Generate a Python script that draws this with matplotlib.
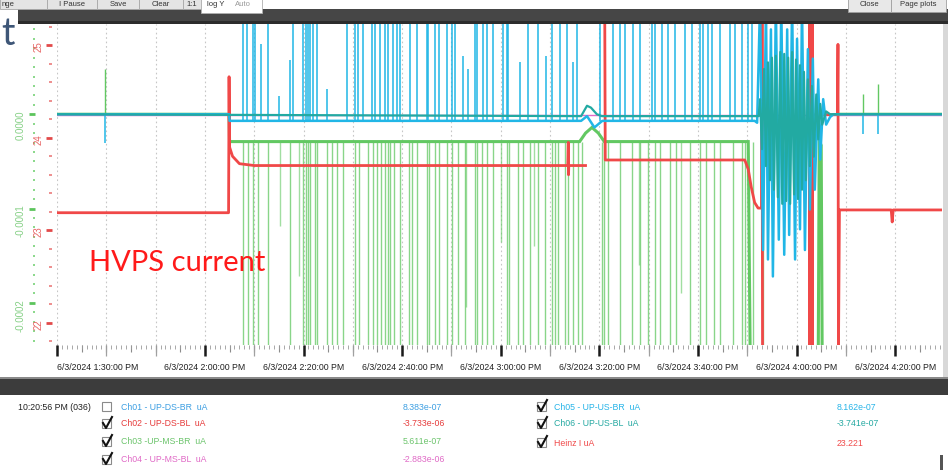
import numpy as np
import matplotlib
matplotlib.use("Agg")
import matplotlib.pyplot as plt
from matplotlib import font_manager
from matplotlib.patches import Rectangle
from matplotlib.lines import Line2D
from matplotlib.ticker import MultipleLocator, FixedLocator, FuncFormatter

W, H = 948, 472
nan = np.nan

_names = {f.name for f in font_manager.fontManager.ttflist}
NARROW = "Liberation Sans Narrow" if "Liberation Sans Narrow" in _names else "Liberation Sans"

# ---------------------------------------------------------------------------
# time axis: minutes after 6/3/2024 1:30 PM
# ---------------------------------------------------------------------------
T_MAX = 179.5
MAJOR_T = [0, 30, 50, 70, 90, 110, 130, 150, 170]
MAJOR_LBL = ["6/3/2024 1:30:00 PM", "6/3/2024 2:00:00 PM", "6/3/2024 2:20:00 PM",
             "6/3/2024 2:40:00 PM", "6/3/2024 3:00:00 PM", "6/3/2024 3:20:00 PM",
             "6/3/2024 3:40:00 PM", "6/3/2024 4:00:00 PM", "6/3/2024 4:20:00 PM"]

# channel currents, in units of 1e-4 uA (left green scale)
CH06_T = [0, 106.3, 107.5, 108.3, 109.5, 110.5, 142.3,
          142.6, 143.0, 143.4, 143.8, 144.2, 144.6, 145.0, 145.4, 145.8, 146.2,
          146.7, 147.1, 147.5, 147.9, 148.3, 148.7, 149.1, 149.5, 149.9, 150.3, 150.7,
          151.1, 151.5, 151.9, 152.3, 152.7, 153.1, 153.5, 154.0, 154.4, 154.8, 155.2,
          156.0, 156.8, 179.5]
CH06_V = [0, -0.02, 0.09, 0.07, 0.0, -0.02, -0.02,
          0.16, -0.37, 0.48, -0.55, 0.55, -0.70, 0.60, -0.80, 0.62, -0.88,
          0.66, -0.95, 0.64, -0.92, 0.60, -0.95, 0.66, -0.85, 0.58, -0.90, 0.52,
          -0.80, 0.45, -0.70, 0.37, -0.55, 0.30, -0.45, 0.21, -0.27, 0.11, -0.11,
          0.03, 0, 0]

CH05_T = [0, 34.9, 35.0, 106.3, 107.5, 109.0, 110.6, 141.5,
          142.0, 142.6, 143.2, 143.8, 144.2, 144.8, 145.2, 145.8, 146.4, 146.9, 147.5,
          148.1, 148.5, 149.1, 149.7, 150.1, 150.7, 151.1, 151.7, 152.3, 152.7, 153.3,
          153.7, 154.4, 154.8, 155.4, 156.0, 156.8, 157.5, 179.5]
CH05_V = [0, 0, -0.07, -0.07, -0.02, -0.14, -0.07, -0.07,
          -0.09, 1.2, -1.44, 1.2, -1.54, 0.90, -1.72, 1.2, -1.33, 1.2, -1.49,
          0.90, -1.28, 1.2, -1.54, 0.80, -1.22, 1.2, -1.44, 0.69, -1.01, 0.59,
          -0.80, 0.37, -0.48, 0.16, -0.11, -0.03, 0, 0]

# upward glitches on Ch05 reaching the top of the window
CH05_SPIKES = [37.7, 38.5, 39.8, 40.2, 42.8, 47.9, 49.9, 50.5, 50.9, 51.3, 51.9, 52.7,
               58.8, 60.4, 61.1, 62.1, 63.9, 64.5, 65.5, 66.5, 67.1, 68.2, 69.0, 69.6,
               71.6, 73.0, 75.1, 75.3, 76.7, 77.5, 79.1, 80.1, 80.7, 84.8, 85.2, 86.4,
               87.2, 88.4, 90.5, 91.3, 91.5, 95.5, 97.6, 100.4, 102.0, 103.4, 105.5,
               110.1, 112.8, 114.2, 115.2, 116.8, 118.3, 120.7, 121.3, 122.7, 123.9,
               125.4, 127.4, 128.8, 130.4, 131.0, 132.0, 132.9, 134.5, 136.5, 137.5,
               138.9, 140.2, 141.0]
CH05_PART_T = [41.4, 45.0, 47.3, 54.8, 82.4, 83.4, 93.9, 99.2, 104.6]
CH05_PART_TOP = [0.74, 0.19, 0.58, 0.27, 0.62, 0.48, 0.55, 0.62, 0.55]
CH05_DIPS_T = [9.7, 163.5, 166.5]
CH05_DIPS_LOW = [-0.30, -0.21, -0.21]

CH03_T = [0, 34.9, 35.0, 106.0, 107.2, 108.5, 109.8, 111.0, 140.2, 140.6, nan,
          154.4, 154.6, 155.0, 155.2, nan, 158.4, 179.5]
CH03_V = [0, 0, -0.29, -0.29, -0.20, -0.14, -0.20, -0.29, -0.29, -2.6, nan,
          -2.6, -0.28, -0.33, -2.6, nan, 0, 0]

# downward glitches on Ch03 (to the bottom of the window)
CH03_SPIKES = [37.7, 38.7, 39.8, 40.8, 42.8, 47.3, 49.9, 50.5, 50.9, 51.3, 52.3, 52.7,
               54.8, 55.8, 56.8, 58.0, 60.4, 61.3, 63.1, 64.1, 64.9, 65.7, 66.5, 67.1,
               67.5, 68.4, 69.6, 71.4, 72.0, 73.0, 75.1, 75.5, 76.7, 77.5, 79.1, 80.1,
               81.3, 82.8, 84.8, 85.2, 86.2, 87.2, 88.4, 91.3, 91.7, 93.5, 94.5, 95.9,
               97.6, 99.0, 100.4, 101.0, 101.6, 103.0, 103.7, 104.7, 105.7, 106.5,
               110.5, 111.0, 111.8, 114.2, 116.6, 118.3, 119.9, 121.3, 122.3, 124.3,
               125.6, 128.4, 130.4, 131.6, 133.3, 134.5, 137.1, 138.9, 139.6, 141.2,
               143.2]
CH03_PART_T = [45.2, 49.1, 83.0, 90.0, 96.7, 118.0, 126.5]
CH03_PART_LOW = [-1.19, -1.72, -2.04, -1.36, -1.40, -1.60, -1.90]
CH03_UP_T = [9.7, 163.5, 166.5]
CH03_UP_TOP = [0.48, 0.21, 0.32]
CH03_FLOOR = -2.6

# HVPS current "Heinz I", uA (right red scale)
HEINZ_T = [0, 34.8, 34.9, 35.0, 35.6, 37.0, 40.0, 103.6, 103.7, 103.75, 103.8, 107.2,
           107.3, 111.1, 111.2, 139.5, 140.2, 140.8, 141.5, 142.2, 142.9, 143.0, 143.1,
           143.2, 153.5, 158.3, 158.4, 158.5, 158.7, 169.2, 169.4, 169.6, 179.5]
HEINZ_V = [23.19, 23.19, 24.66, 23.90, 23.80, 23.72, 23.70, 23.70, 23.95, 23.60, 23.70,
           23.70, nan, 25.3, 23.76, 23.76, 23.66, 23.47, 23.30, 23.24, 23.24, 25.3, 21.7,
           nan, 24.25, 24.25, 25.01, 21.7, 23.22, 23.22, 23.09, 23.22, 23.22]
HEINZ_BAND = (152.3, 153.5)

# legend rows
LEG_NAMES = ["Ch01 - UP-DS-BR  uA", "Ch02 - UP-DS-BL  uA", "Ch03 -UP-MS-BR  uA",
             "Ch04 - UP-MS-BL  uA", "Ch05 - UP-US-BR  uA", "Ch06 - UP-US-BL  uA",
             "Heinz I uA"]
LEG_VALUES = ["8.383e-07", "-3.733e-06", "5.611e-07", "-2.883e-06",
              "8.162e-07", "-3.741e-07", "23.221"]
LEG_COLORS = ["#3d9fe2", "#e63c3c", "#6cc46c", "#e06ac6", "#27b4e8", "#26a9a2", "#f04a4a"]
LEG_CHECKED = [False, True, True, True, True, True, True]

C_TEAL = "#22aaa2"
C_CYAN = "#21b6e6"
C_GREEN = "#62c862"
C_RED = "#f04848"

# ---------------------------------------------------------------------------
fig = plt.figure(figsize=(W / 100, H / 100), dpi=100)
fig.patch.set_facecolor("white")


def fx(x):
    return x / W


def fy(y):
    return 1 - y / H


def rect(x0, y0, x1, y1, fc, ec="none", lw=0.0, z=0):
    fig.add_artist(Rectangle((fx(x0), fy(y1)), (x1 - x0) / W, (y1 - y0) / H,
                             transform=fig.transFigure, facecolor=fc,
                             edgecolor=ec, linewidth=lw, zorder=z))


pos = [fx(57), fy(345), (942 - 57) / W, (345 - 24) / H]
ax = fig.add_axes(pos)
ax.set_xlim(0, T_MAX)
ax.set_ylim(-2.447, 0.957)
for s in ax.spines.values():
    s.set_visible(False)
ax.spines["left"].set_position(("outward", 22 * 0.72))

# dotted time grid every 10 min
for t in range(0, 180, 10):
    ax.axvline(t, color="#c6c6c6", lw=0.8, ls=(0, (1.5, 2.5)), zorder=0)

# x ticks: 1 min, 5 min, 10 min, labelled every 20 min
ax.xaxis.set_major_locator(FixedLocator(MAJOR_T))
ax.set_xticklabels(MAJOR_LBL, fontsize=6.3, family=NARROW, color="#222222")
ax.xaxis.get_majorticklabels()[0].set_ha("left")
ax.xaxis.set_minor_locator(MultipleLocator(1))
ax.tick_params(axis="x", which="major", length=8, width=1.8, color="#1a1a1a",
               direction="out", pad=5)
ax.tick_params(axis="x", which="minor", length=3, width=0.6, color="#9a9a9a",
               direction="out")
sec5 = ax.secondary_xaxis("bottom")
sec5.set_xticks(np.arange(0, 180, 5))
sec5.tick_params(length=5, width=0.8, color="#8c8c8c", labelbottom=False)
sec5.spines["bottom"].set_visible(False)
sec10 = ax.secondary_xaxis("bottom")
sec10.set_xticks([t for t in range(10, 180, 10) if t not in MAJOR_T])
sec10.tick_params(length=8, width=0.9, color="#a0a0a0", labelbottom=False)
sec10.spines["bottom"].set_visible(False)

# green scale
ax.yaxis.set_major_locator(FixedLocator([0, -1, -2]))
ax.yaxis.set_major_formatter(FuncFormatter(lambda v, _: f"{v * 1e-4:.4f}"))
ax.yaxis.set_minor_locator(MultipleLocator(0.1))
ax.tick_params(axis="y", which="major", length=4, width=2, color="#5cc45c",
               labelcolor="#86d086", labelsize=7, pad=3, direction="out")
ax.tick_params(axis="y", which="minor", length=1.4, width=1.4, color="#8ad88a",
               direction="out")
for lb in ax.get_yticklabels():
    lb.set_rotation(90)
    lb.set_family(NARROW)

# red scale
axr = ax.twinx()
axr.set_ylim(21.76, 25.23)
axr.yaxis.tick_left()
for s in axr.spines.values():
    s.set_visible(False)
axr.spines["left"].set_position(("outward", 5 * 0.72))
axr.yaxis.set_major_locator(FixedLocator([22, 23, 24, 25]))
axr.yaxis.set_minor_locator(MultipleLocator(0.2))
axr.tick_params(axis="y", which="major", length=4, width=2, color="#e24a4a",
                labelcolor="#e86464", labelsize=7, pad=2, direction="out")
axr.tick_params(axis="y", which="minor", length=2, width=1.1, color="#ea7070",
                direction="out")
for lb in axr.get_yticklabels():
    lb.set_rotation(90)
    lb.set_family(NARROW)

# top layer for Ch05 / Ch06
axc = fig.add_axes(pos, sharex=ax, sharey=ax)
axc.axis("off")
axc.patch.set_visible(False)

# Ch03 (green)
ax.vlines(CH03_SPIKES, CH03_FLOOR, -0.29, color=C_GREEN, lw=1.0, alpha=0.75, zorder=2)
ax.vlines(CH03_PART_T, CH03_PART_LOW, -0.29, color=C_GREEN, lw=1.0, alpha=0.6, zorder=2)
ax.vlines(CH03_UP_T, 0, CH03_UP_TOP, color=C_GREEN, lw=1.0, zorder=2)
ax.plot(CH03_T, CH03_V, color=C_GREEN, lw=2.2, zorder=3, solid_joinstyle="miter")
# Ch02 / Ch04 sit at zero under Ch06
ax.plot([0, T_MAX], [-0.01, -0.01], color="#e26ac8", lw=1.0, zorder=3)

# Heinz I (red)
axr.plot(HEINZ_T, HEINZ_V, color=C_RED, lw=2.0, zorder=3)
axr.axvspan(*HEINZ_BAND, color=C_RED, lw=0, zorder=3)

# Ch05 (cyan) and Ch06 (teal)
axc.vlines(CH05_SPIKES, -0.07, 1.2, color=C_CYAN, lw=1.1, zorder=2)
axc.vlines(CH05_PART_T, -0.07, CH05_PART_TOP, color=C_CYAN, lw=1.1, zorder=2)
axc.vlines(CH05_DIPS_T, CH05_DIPS_LOW, 0, color=C_CYAN, lw=1.1, zorder=2)
axc.plot(CH05_T, CH05_V, color=C_CYAN, lw=1.8, zorder=3)
axc.plot(CH06_T, CH06_V, color=C_TEAL, lw=1.6, zorder=4)

fig.text(fx(89), fy(263), "HVPS current", color="#ff1a1a", fontsize=21,
         family="Lato", va="center", ha="left")

# ---------------------------------------------------------------------------
# window chrome around the plot
# ---------------------------------------------------------------------------
rect(18, 9, 948, 21, "#464646")
rect(18, 21, 948, 24, "#2c2c2c")
for x0, x1, txt in [(0, 47, "nge"), (47, 97, "I Pause"), (97, 139, "Save"),
                    (139, 183, "Clear"), (183, 201, "1:1")]:
    rect(x0, -2, x1, 9, "#e4e4e4", ec="#a8a8a8", lw=0.6)
    if x0 == 0:
        fig.text(fx(2), fy(4.5), txt, fontsize=5.5, family=NARROW, color="#333",
                 ha="left", va="center")
    else:
        fig.text(fx((x0 + x1) / 2), fy(4.5), txt, fontsize=5.5, family=NARROW,
                 color="#333", ha="center", va="center")
rect(201, -2, 262, 13, "#ffffff", ec="#b0b0b0", lw=0.6)
fig.text(fx(207), fy(5), "log Y", fontsize=5.5, family=NARROW, color="#333", va="center")
fig.text(fx(235), fy(5), "Auto", fontsize=5.5, family=NARROW, color="#999", va="center")
for x0, x1, txt in [(848, 891, "Close"), (891, 946, "Page plots")]:
    rect(x0, -2, x1, 12, "#e8e8e8", ec="#a0a0a0", lw=0.6)
    fig.text(fx((x0 + x1) / 2), fy(5), txt, fontsize=5.5, family=NARROW,
             color="#333", ha="center", va="center")
fig.text(fx(1), fy(45), "t", color="#3e5677", fontsize=27, family="Lato",
         ha="left", va="baseline")
rect(943, 24, 948, 378, "#d8d8d8")

rect(0, 377, 948, 379, "#8a8a8a")
rect(0, 379, 948, 395, "#3c3c3c")

# channel legend
fig.text(fx(18), fy(407), "10:20:56 PM (036)", fontsize=6.3, family=NARROW,
         color="#222", va="center")
rows = [407, 424, 442, 460, 407, 424, 443]
for i, name in enumerate(LEG_NAMES):
    left = i < 4
    bx = 102 if left else 537
    tx = 121 if left else 554
    vx = 403 if left else 837
    y = rows[i]
    rect(bx, y - 5, bx + 9, y + 4, "white", ec="#8a8a8a", lw=0.8, z=2)
    if LEG_CHECKED[i]:
        fig.add_artist(Line2D([fx(bx + 1), fx(bx + 4), fx(bx + 10)],
                              [fy(y - 1), fy(y + 4), fy(y - 7)],
                              transform=fig.transFigure, color="#111", lw=1.5, zorder=3))
    fig.text(fx(tx), fy(y), name, fontsize=6.3, family=NARROW, color=LEG_COLORS[i],
             va="center")
    fig.text(fx(vx), fy(y), LEG_VALUES[i], fontsize=6.3, family=NARROW,
             color=LEG_COLORS[i], va="center")
rect(940, 455, 943, 470, "#555555")

fig.savefig("out.png", dpi=100)
